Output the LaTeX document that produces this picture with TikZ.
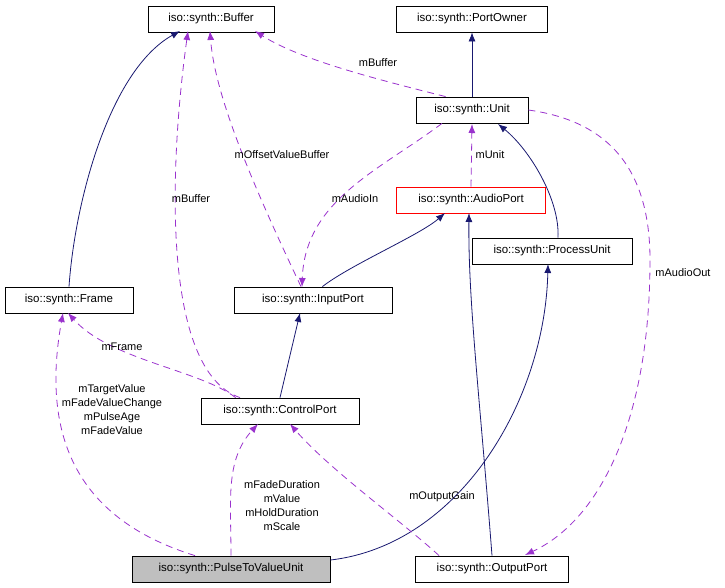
\documentclass[tikz,border=0pt]{standalone}
\usepackage{fontspec}
\setmainfont{Liberation Sans}
\usetikzlibrary{arrows.meta}
\definecolor{nav}{RGB}{25,25,112}
\definecolor{pur}{RGB}{154,50,205}
\begin{document}
\begin{tikzpicture}[x=1pt,y=-1pt,line width=0.8pt,
  box/.style={draw,minimum height=26pt,font=\fontsize{11.5}{14}\selectfont,inner xsep=3pt},
  inh/.style={draw=nav,-{Latex[length=9pt,width=7pt,fill=nav]}},
  use/.style={draw=pur,dash pattern=on 7pt off 5pt,-{Latex[length=9pt,width=7pt,fill=pur]}},
  lab/.style={font=\fontsize{11}{14}\selectfont,align=center,inner sep=1pt}]
\useasboundingbox (0,0) rectangle (725,587);
\node[box,minimum width=126pt] (buf) at (211,19) {iso::synth::Buffer};
\node[box,minimum width=151pt] (po) at (472,19) {iso::synth::PortOwner};
\node[box,minimum width=112pt] (unit) at (472,110) {iso::synth::Unit};
\node[box,minimum width=149pt,draw=red] (ap) at (471,200) {iso::synth::AudioPort};
\node[box,minimum width=160pt] (pu) at (552,251) {iso::synth::ProcessUnit};
\node[box,minimum width=128pt] (fr) at (69,300) {iso::synth::Frame};
\node[box,minimum width=158pt] (ip) at (313,300) {iso::synth::InputPort};
\node[box,minimum width=158pt] (cp) at (280,411) {iso::synth::ControlPort};
\node[box,minimum width=198pt,fill=black!25] (pv) at (231,569) {iso::synth::PulseToValueUnit};
\node[box,minimum width=153pt] (op) at (492,569) {iso::synth::OutputPort};

% inheritance (solid)
\draw[inh] (fr.north) .. controls (75,200) and (110,70) .. (180,31);
\draw[inh] (unit.north) -- (po.south);
\draw[inh] (ip.north east) ++(-70,0) .. controls (350,265) and (420,235) .. (445,213);
\draw[inh] (pu.north) ++(6,0) .. controls (560,200) and (530,150) .. (498,124);
\draw[inh] (cp.north) -- (300,313);
\draw[inh] (pv.east) ++(0,-9) .. controls (460,545) and (545,400) .. (548,264);
\draw[inh] (op.north) .. controls (480,400) and (468,300) .. (469,213);

% usage (dashed)
\draw[use] (unit.north west) ++(30,0) .. controls (380,80) and (300,60) .. (255,31);
\node[lab,fill=white] at (378,63) {mBuffer};
\draw[use] (ip.north) ++(-12,0) .. controls (260,200) and (215,100) .. (210,31);
\node[lab] at (282,155) {mOffsetValueBuffer};
\draw[use] (cp.north) ++(-40,0) .. controls (160,370) and (170,160) .. (188,31);
\node[lab] at (191,199) {mBuffer};
\draw[use] (unit.south) ++(-30,0) .. controls (380,170) and (305,200) .. (302,287);
\node[lab] at (355,199) {mAudioIn};
\draw[use] (ap.north) -- (472,124);
\node[lab,fill=white] at (490,155) {mUnit};
\draw[use] (unit.east) .. controls (600,120) and (650,160) .. (650,260) .. controls (650,420) and (600,520) .. (525,555);
\node[lab] at (683,273) {mAudioOut};
\draw[use] (cp.north west) ++(35,0) .. controls (200,370) and (110,360) .. (68,313);
\node[lab] at (122,347) {mFrame};
\draw[use] (pv.north) ++(-36,0) .. controls (80,520) and (40,440) .. (63,313);
\node[lab] at (112,410) {mTargetValue\\mFadeValueChange\\mPulseAge\\mFadeValue};
\draw[use] (pv.north) .. controls (231,500) and (225,460) .. (258,424);
\node[lab] at (282,506) {mFadeDuration\\mValue\\mHoldDuration\\mScale};
\draw[use] (op.north west) ++(24,0) .. controls (400,520) and (330,470) .. (290,424);
\node[lab] at (442,497) {mOutputGain};
\end{tikzpicture}
\end{document}
